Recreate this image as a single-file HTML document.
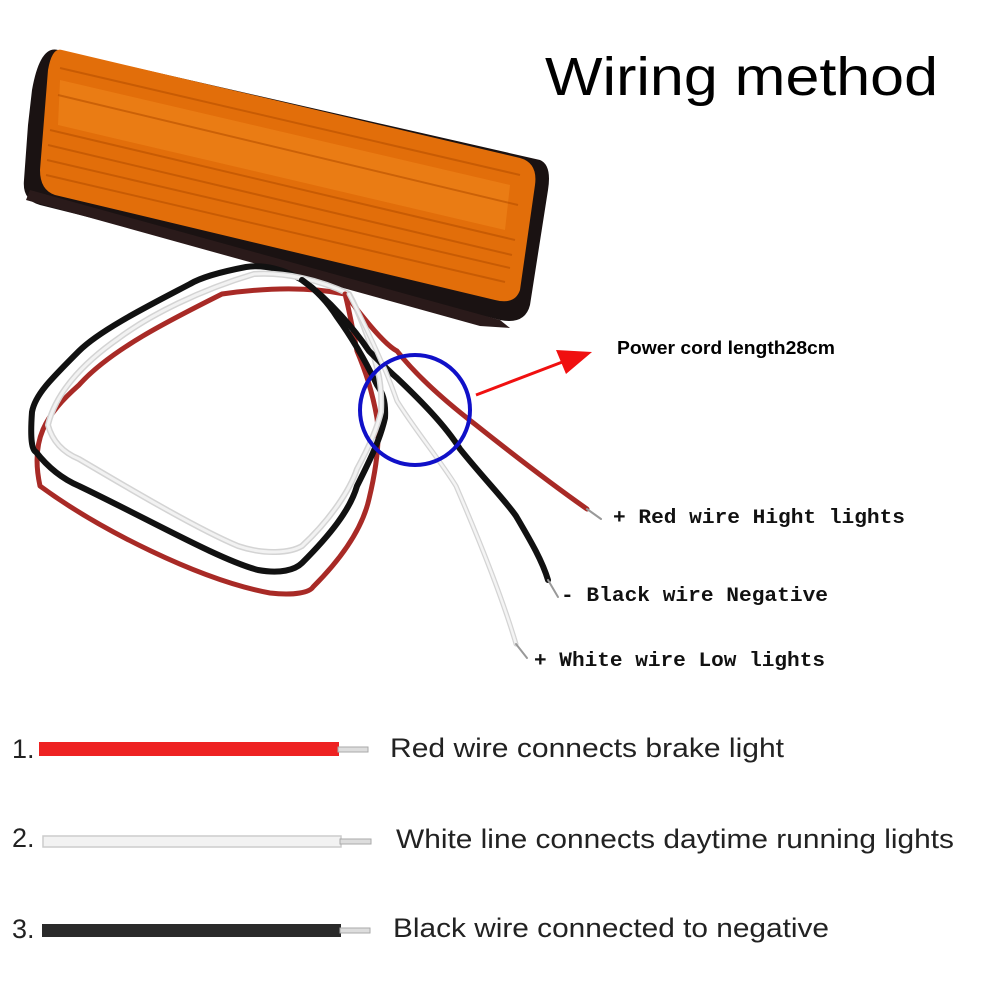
<!DOCTYPE html>
<html><head><meta charset="utf-8"><style>
html,body{margin:0;padding:0;background:#fff;}
svg{display:block;}
</style></head><body>
<svg width="1001" height="1001" viewBox="0 0 1001 1001" xmlns="http://www.w3.org/2000/svg">
<rect width="1001" height="1001" fill="#fff"/>
<!-- lamp -->
<g>
<path d="M58,50 L540,160 Q552,165 548,190 L530,305 Q525,325 500,320 L40,205 Q22,200 24,180 L28,125 L32,90 Q40,45 58,50 Z" fill="#1a1212"/>
<path d="M62,50 L520,158 Q538,163 535,185 L520,290 Q515,305 495,300 L55,195 Q40,190 40,170 L48,70 Q52,47 62,50 Z" fill="#e26e0a"/>
<path d="M60,80 L510,185 L505,230 L58,125 Z" fill="#f0861a" opacity="0.6"/>
<g stroke="#b85000" stroke-width="2" opacity="0.6" fill="none">
<path d="M50,130 L515,240"/><path d="M48,145 L512,255"/><path d="M47,160 L510,268"/><path d="M46,175 L505,282"/>
<path d="M60,68 L520,175"/><path d="M58,95 L518,205"/>
</g>
<path d="M30,190 L500,320 L510,328 L480,326 L26,200 Z" fill="#2a1a1a"/>
</g>
<!-- loops -->
<g fill="none" stroke-linecap="round" stroke-linejoin="round">
<path d="M345,294 C300,285 250,290 222,294 C170,320 110,350 79,385 C45,415 30,440 40,486 C100,530 200,580 270,593 C295,596 310,592 313,587 C340,560 362,530 369,499 C376,470 380,440 377,418 C372,390 365,370 357,351 C352,325 348,305 345,294" stroke="#a82a26" stroke-width="5"/>
<path d="M302,280 C285,270 265,264 246,267 C220,272 200,278 190,284 C150,305 100,330 79,351 C50,380 35,395 32,412 C30,440 32,450 36,452 C50,470 65,480 79,486 C150,520 220,560 258,570 C280,574 295,570 302,563 C330,535 350,510 357,486 C370,460 380,440 385,418 C386,400 382,392 377,385 C365,360 350,335 337,317 C325,298 312,287 302,280" stroke="#111" stroke-width="6"/>
<path d="M349,294 C320,280 285,272 254,274 C200,290 150,315 119,338 C80,365 55,395 48,425 C52,440 62,452 79,459 C140,495 200,530 238,546 C265,555 290,553 302,546 C330,520 350,490 357,469 C370,445 378,425 381,412 C382,395 380,378 377,368 C370,340 358,310 349,294" stroke="#d4d4d4" stroke-width="6"/>
<path d="M349,294 C320,280 285,272 254,274 C200,290 150,315 119,338 C80,365 55,395 48,425 C52,440 62,452 79,459 C140,495 200,530 238,546 C265,555 290,553 302,546 C330,520 350,490 357,469 C370,445 378,425 381,412 C382,395 380,378 377,368 C370,340 358,310 349,294" stroke="#f2f2f2" stroke-width="3"/>
<!-- tails -->
<path d="M345,294 C365,320 385,345 397,351 C420,380 450,405 476,425 C520,460 560,490 587,509" stroke="#a82a26" stroke-width="5"/>
<path d="M587,509 L601,519" stroke="#999" stroke-width="2"/>
<path d="M302,280 C330,300 355,330 369,351 C380,362 390,372 397,378 C420,400 445,425 460,449 C485,480 505,500 516,516 C530,540 542,560 548,580" stroke="#111" stroke-width="6"/>
<path d="M548,580 L558,597" stroke="#999" stroke-width="2"/>
<path d="M349,294 C360,315 372,340 381,361 C388,375 393,390 397,401 C415,430 440,460 456,486 C475,530 500,590 516,644" stroke="#d4d4d4" stroke-width="5"/>
<path d="M349,294 C360,315 372,340 381,361 C388,375 393,390 397,401 C415,430 440,460 456,486 C475,530 500,590 516,644" stroke="#f4f4f4" stroke-width="2.5"/>
<path d="M516,644 L527,658" stroke="#999" stroke-width="2"/>
</g>
<!-- blue circle -->
<ellipse cx="415" cy="410" rx="55" ry="55" fill="none" stroke="#1010c8" stroke-width="4"/>
<!-- arrow -->
<line x1="476" y1="395" x2="565" y2="361" stroke="#f01010" stroke-width="3"/>
<polygon points="592,352 556,350 566,374" fill="#f01010"/>
<!-- titles -->
<text x="545" y="95" font-family="Liberation Sans, sans-serif" font-size="54" fill="#000" textLength="393" lengthAdjust="spacingAndGlyphs">Wiring method</text>
<text x="617" y="354" font-family="Liberation Sans, sans-serif" font-size="18" font-weight="bold" fill="#000" textLength="218" lengthAdjust="spacingAndGlyphs" style="font-weight:600">Power cord length28cm</text>
<g font-family="Liberation Mono, monospace" font-weight="bold" font-size="20" fill="#111">
<text x="613" y="523" textLength="292" lengthAdjust="spacingAndGlyphs">+ Red wire Hight lights</text>
<text x="561" y="601" textLength="267" lengthAdjust="spacingAndGlyphs">- Black wire Negative</text>
<text x="534" y="666" textLength="291" lengthAdjust="spacingAndGlyphs">+ White wire Low lights</text>
</g>
<!-- bottom wires -->
<g font-family="Liberation Sans, sans-serif" font-size="27" fill="#222">
<text x="12" y="758">1.</text>
<text x="12" y="847">2.</text>
<text x="12" y="938">3.</text>
<text x="390" y="757" textLength="394" lengthAdjust="spacingAndGlyphs">Red wire connects brake light</text>
<text x="396" y="848" textLength="558" lengthAdjust="spacingAndGlyphs">White line connects daytime running lights</text>
<text x="393" y="937" textLength="436" lengthAdjust="spacingAndGlyphs">Black wire connected to negative</text>
</g>
<rect x="39" y="742" width="300" height="14" fill="#ee2222"/>
<rect x="338" y="747" width="30" height="5" fill="#ddd" stroke="#aaa" stroke-width="1"/>
<rect x="43" y="836" width="298" height="11" fill="#f2f2f2" stroke="#ccc" stroke-width="1.5"/>
<rect x="340" y="839" width="31" height="5" fill="#ddd" stroke="#aaa" stroke-width="1"/>
<rect x="42" y="924" width="299" height="13" fill="#2a2a2a"/>
<rect x="340" y="928" width="30" height="5" fill="#ddd" stroke="#aaa" stroke-width="1"/>
</svg>
</body></html>
